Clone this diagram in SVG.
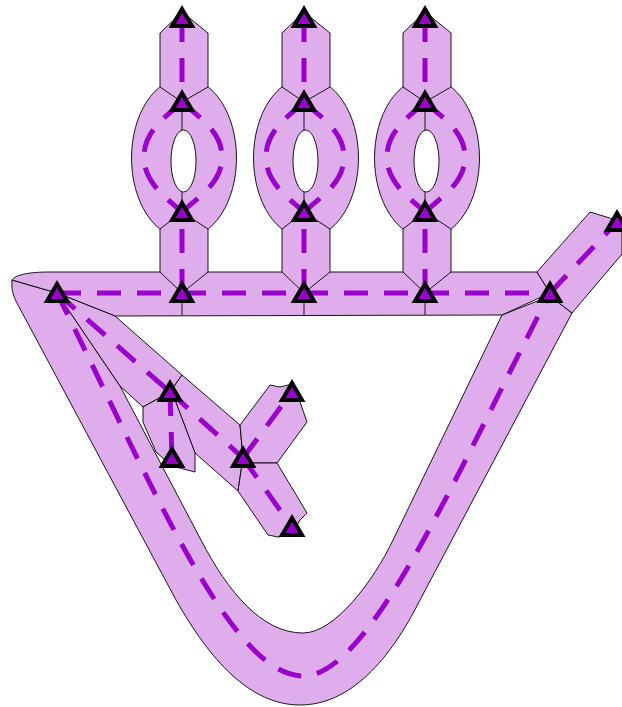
<svg xmlns="http://www.w3.org/2000/svg" xmlns:xlink="http://www.w3.org/1999/xlink" width="622" height="707" viewBox="0 0 622 707">
<style>
.reg{fill:#e0adec;stroke:#000;stroke-width:0.9;stroke-linejoin:miter}
.ln{fill:none;stroke:#000;stroke-width:0.9}
.edge{fill:none;stroke:#9900cc;stroke-width:5;stroke-dasharray:24 16}
.tri{fill:#9900cc;stroke:#000;stroke-width:4;stroke-linejoin:miter}
</style>
<defs>
<path id="tri" class="tri" d="M0,-9 L-10,8 L10,8 Z"/>
<g id="col">
<path class="reg" fill-rule="evenodd" d="M131.5,158 A52.5,80 0 1 0 236.5,158 A52.5,80 0 1 0 131.5,158 Z M171,161 A12.5,31 0 1 0 196,161 A12.5,31 0 1 0 171,161 Z"/>
<path class="reg" d="M160,33 L182,12 L208,33 L208,87 L182,102 L160,87 Z"/>
<path class="reg" d="M160,229 L182,212 L208,229 L208,272 L182,293 L160,272 Z"/>
<path class="ln" d="M182,102 V130 M182,192 V212 M182,293 V315"/>
</g>
</defs>
<g id="regions">
<path class="reg" d="M12,280 L57,293 L120,386 L201,540 C228,592 262,633 303,633 C335,633 374,580 393,540 L502,315 L550,296 L572,313 L420,600 C390,660 350,705 300,705 C250,705 210,660 176,600 L18,305 C14,298 11,290 12,280 Z"/>
<path class="reg" d="M12,280 C15,275 28,272 50,272 L537,272 L550,293 L502,315 L115,316 L57,293 Z"/>
<path class="reg" d="M550,293 L537,272 L590,212 L613,219 L622,222 L622,254 L617,260 L572,313 L550,296 Z"/>
<path class="reg" d="M57,293 L115,316 L182,375 L170,392 L143,407 L120,386 Z"/>
<path class="reg" d="M170,392 L182,375 L240,425 L243,458 L238,491 L195,453 L175,400 Z"/>
<path class="reg" d="M170,392 L175,400 L195,453 L195,472 L172,466 L156,452 L143,422 L143,407 Z"/>
<path class="reg" d="M243,458 L240,425 L270,385 L280,387 L292,384 L300,402 L307,422 L277,463 L248,463 Z"/>
<path class="reg" d="M243,458 L248,463 L277,463 L307,513 L300,520 L292,535 L278,537 L268,535 L238,491 Z"/>
<use xlink:href="#col"/>
<use xlink:href="#col" transform="translate(122,0)"/>
<use xlink:href="#col" transform="translate(243,0)"/>
</g>
<g id="connectors">
<path class="edge" d="M182,18 V102"/>
<path class="edge" d="M304,18 V102"/>
<path class="edge" d="M425,18 V102"/>
<path class="edge" d="M182,102 C200,118 222,132 222,157 C222,182 200,196 182,212"/>
<path class="edge" d="M182,102 C164,118 144,132 144,157 C144,182 164,196 182,212"/>
<path class="edge" d="M304,102 C322,118 344,132 344,157 C344,182 322,196 304,212"/>
<path class="edge" d="M304,102 C286,118 266,132 266,157 C266,182 286,196 304,212"/>
<path class="edge" d="M425,102 C443,118 465,132 465,157 C465,182 443,196 425,212"/>
<path class="edge" d="M425,102 C407,118 387,132 387,157 C387,182 407,196 425,212"/>
<path class="edge" d="M182,293 V212"/>
<path class="edge" d="M304,293 V212"/>
<path class="edge" d="M425,293 V212"/>
<path class="edge" d="M57,293 H182"/>
<path class="edge" d="M182,293 H304"/>
<path class="edge" d="M304,293 H425"/>
<path class="edge" d="M425,293 H550"/>
<path class="edge" d="M550,293 L617,222"/>
<path class="edge" d="M57,293 C150,480 230,676 303,676 C370,676 453,480 550,293"/>
<path class="edge" d="M57,293 L170,392"/>
<path class="edge" d="M170,392 L243,458"/>
<path class="edge" d="M170,392 L172,458"/>
<path class="edge" d="M243,458 L292,392"/>
<path class="edge" d="M243,458 L292,527"/>
</g>
<g id="n1"><use xlink:href="#tri" x="182" y="18"/></g>
<g id="n2"><use xlink:href="#tri" x="304" y="18"/></g>
<g id="n3"><use xlink:href="#tri" x="425" y="18"/></g>
<g id="n4"><use xlink:href="#tri" x="182" y="102"/></g>
<g id="n5"><use xlink:href="#tri" x="304" y="102"/></g>
<g id="n6"><use xlink:href="#tri" x="425" y="102"/></g>
<g id="n7"><use xlink:href="#tri" x="182" y="212"/></g>
<g id="n8"><use xlink:href="#tri" x="304" y="212"/></g>
<g id="n9"><use xlink:href="#tri" x="425" y="212"/></g>
<g id="n10"><use xlink:href="#tri" x="57" y="293"/></g>
<g id="n11"><use xlink:href="#tri" x="182" y="293"/></g>
<g id="n12"><use xlink:href="#tri" x="304" y="293"/></g>
<g id="n13"><use xlink:href="#tri" x="425" y="293"/></g>
<g id="n14"><use xlink:href="#tri" x="550" y="293"/></g>
<g id="n15"><use xlink:href="#tri" x="617" y="222"/></g>
<g id="n16"><use xlink:href="#tri" x="170" y="392"/></g>
<g id="n17"><use xlink:href="#tri" x="172" y="458"/></g>
<g id="n18"><use xlink:href="#tri" x="243" y="458"/></g>
<g id="n19"><use xlink:href="#tri" x="292" y="392"/></g>
<g id="n20"><use xlink:href="#tri" x="292" y="527"/></g>
</svg>
